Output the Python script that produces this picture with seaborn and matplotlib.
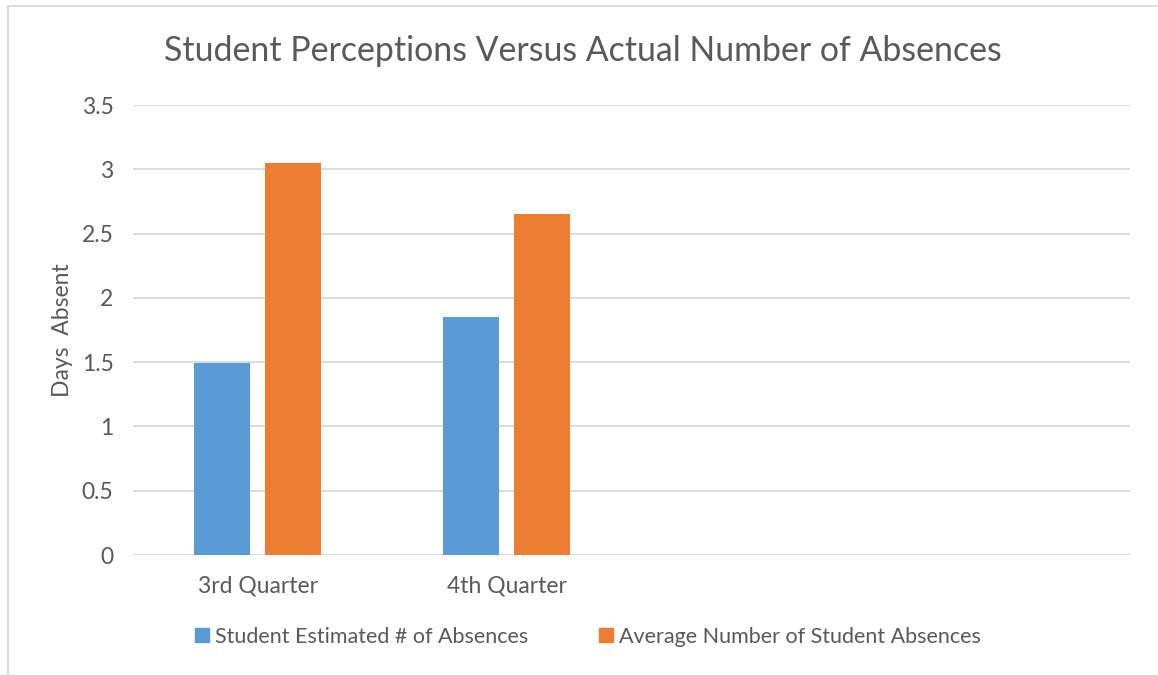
import matplotlib
matplotlib.use("Agg")
import matplotlib.pyplot as plt
import seaborn as sns
import pandas as pd
from matplotlib.lines import Line2D

categories = ["3rd Quarter", "4th Quarter"]
slots = ["3rd Quarter", "4th Quarter", " ", "  "]
series_names = ["Student Estimated # of Absences", "Average Number of Student Absences"]
estimated = [1.49, 1.85]
actual = [3.05, 2.65]
yticks = [0, 0.5, 1, 1.5, 2, 2.5, 3, 3.5]
ytick_labels = ["0", "0.5", "1", "1.5", "2", "2.5", "3", "3.5"]

colors = ["#5B9BD5", "#ED7D31"]
text_color = "#595959"
grid_color = "#D9D9D9"

df = pd.DataFrame({
    "Quarter": categories * 2,
    "Series": [series_names[0]] * 2 + [series_names[1]] * 2,
    "Days": estimated + actual,
})

sns.set_theme(style="white")
plt.rcParams["font.family"] = ["Lato", "DejaVu Sans"]

fig = plt.figure(figsize=(11.58, 6.75), dpi=100)
ax = fig.add_axes([133 / 1158, 1 - 555 / 675, (1130 - 133) / 1158, (555 - 105) / 675])

sns.barplot(data=df, x="Quarter", y="Days", hue="Series", order=slots,
            hue_order=series_names, palette=colors, width=0.57, gap=0.21,
            saturation=1, ax=ax, legend=False, zorder=3, linewidth=0)

ax.set_ylim(0, 3.5)
ax.set_xlim(-0.5, len(slots) - 0.5)
ax.set_yticks(yticks)
ax.set_yticklabels(ytick_labels)
ax.yaxis.grid(True, color=grid_color, linewidth=1.3, zorder=0)
ax.set_axisbelow(True)
for s in ax.spines.values():
    s.set_visible(False)
ax.tick_params(axis="both", length=0, labelsize=16.5, colors=text_color)
ax.tick_params(axis="y", pad=14)
ax.tick_params(axis="x", pad=15)
ax.set_xlabel("")
ax.set_ylabel("Days  Absent", fontsize=16.5, color=text_color, labelpad=6)

fig.text(0.503, 1 - 51 / 675, "Student Perceptions Versus Actual Number of Absences",
         ha="center", va="center", fontsize=24.4, color=text_color)

handles = [Line2D([0], [0], marker="s", linestyle="none", markersize=10,
                  markerfacecolor=c, markeredgecolor=c) for c in colors]
fig.legend(handles, series_names, loc="center", bbox_to_anchor=(0.508, 1 - 637 / 675),
           ncol=2, frameon=False, fontsize=15.5, labelcolor=text_color,
           handlelength=0.6, handletextpad=0.3, columnspacing=3.3)

# outer chart frame (left and top visible)
fig.add_artist(Line2D([8 / 1158, 8 / 1158], [0, 1 - 6 / 675], transform=fig.transFigure,
                      color=grid_color, linewidth=1.3))
fig.add_artist(Line2D([8 / 1158, 1], [1 - 6 / 675, 1 - 6 / 675], transform=fig.transFigure,
                      color=grid_color, linewidth=1.3))

fig.savefig("out.png", dpi=100, facecolor="white")
